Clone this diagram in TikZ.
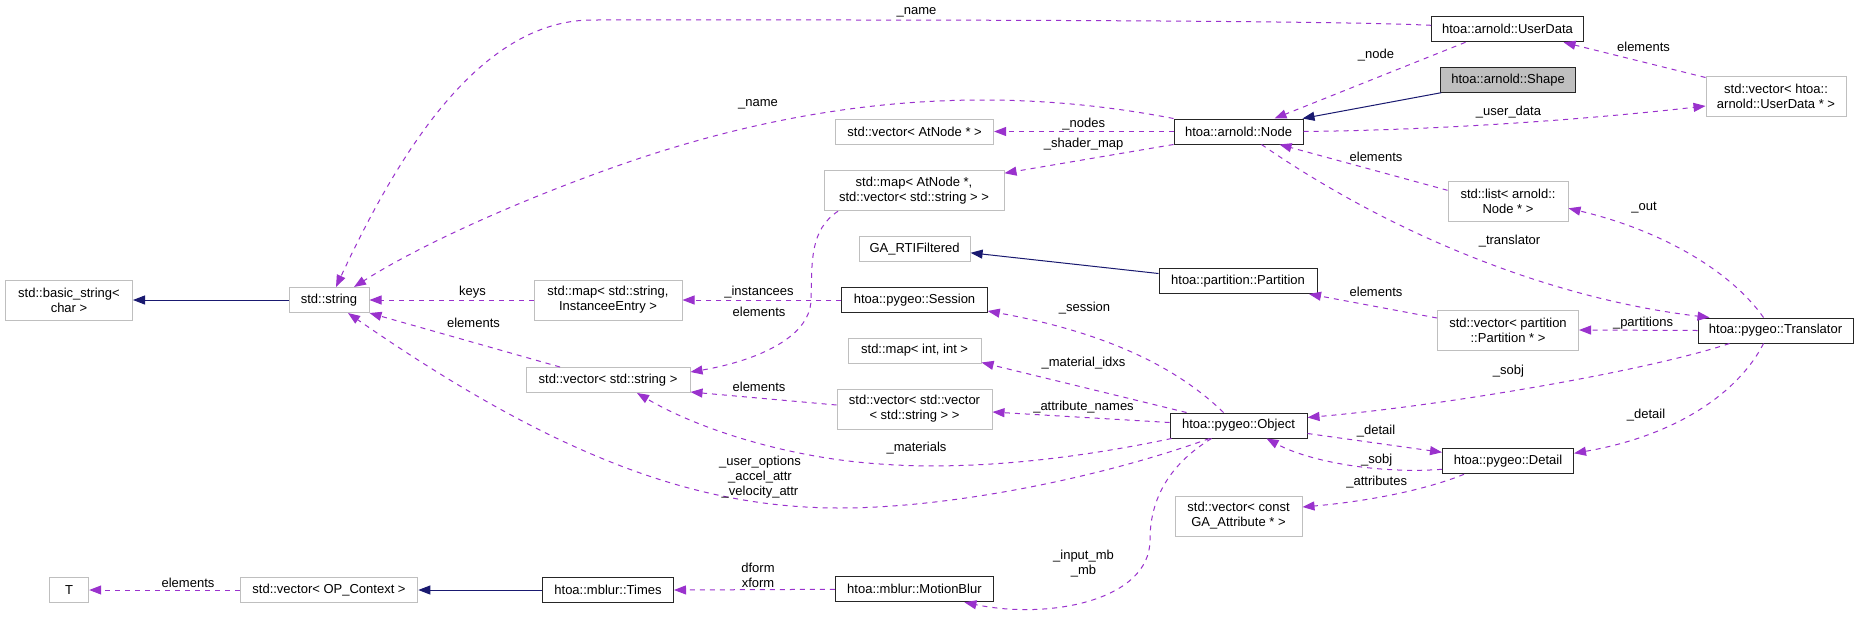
\documentclass[tikz,border=0pt]{standalone}
\usepackage{fontspec}
\setmainfont{Liberation Sans}
\usetikzlibrary{arrows.meta}
\definecolor{purp}{HTML}{9A32CD}
\definecolor{navy}{HTML}{191970}
\definecolor{extgray}{HTML}{BFBFBF}
\definecolor{shapefill}{HTML}{BFBFBF}
\newcommand{\dxfont}{\fontsize{13}{15}\selectfont}
\begin{document}
\begin{tikzpicture}[x=1pt,y=-1pt,
 box/.style={rectangle, inner sep=0pt, align=center, font=\dxfont, line width=1pt, fill=white},
 ext/.style={box, draw=extgray},
 doc/.style={box, draw=black!85},
 use/.style={draw=purp, line width=1pt, dash pattern=on 5pt off 5pt, -{Triangle[length=12pt,width=9pt]}},
 inh/.style={draw=navy, line width=1pt, -{Triangle[length=12pt,width=9pt]}},
 lbl/.style={font=\dxfont, inner sep=0pt, align=center}]
\useasboundingbox[fill=white] (0,0) rectangle (1859,616);

% nodes
\node[ext, minimum width=127pt, minimum height=40pt] (bstr) at (69,300) {std::basic\_string<\\char >};
\node[ext, minimum width=80pt, minimum height=25pt] (str) at (329,300) {std::string};
\node[ext, minimum width=148pt, minimum height=40pt] (mapinst) at (608,300) {std::map< std::string,\\InstanceeEntry >};
\node[ext, minimum width=164pt, minimum height=25pt] (vstr) at (608,380) {std::vector< std::string >};
\node[ext, minimum width=158pt, minimum height=25pt] (vatn) at (914.6,131.5) {std::vector< AtNode * >};
\node[ext, minimum width=180pt, minimum height=40pt] (mapatn) at (914,190.7) {std::map< AtNode *,\\ std::vector< std::string > >};
\node[ext, minimum width=111pt, minimum height=25pt] (garti) at (914.6,249.3) {GA\_RTIFiltered};
\node[doc, minimum width=145.5pt, minimum height=25pt] (sess) at (914.5,300) {htoa::pygeo::Session};
\node[ext, minimum width=133pt, minimum height=25pt] (mapint) at (914.6,350.5) {std::map< int, int >};
\node[ext, minimum width=155pt, minimum height=40pt] (vvstr) at (914.5,409) {std::vector< std::vector\\< std::string > >};
\node[doc, minimum width=158pt, minimum height=25pt] (mblur) at (914.4,589.3) {htoa::mblur::MotionBlur};
\node[doc, minimum width=131pt, minimum height=25pt] (times) at (608,590) {htoa::mblur::Times};
\node[ext, minimum width=177.6pt, minimum height=25pt] (vopc) at (329,590) {std::vector< OP\_Context >};
\node[ext, minimum width=39pt, minimum height=25pt] (T) at (69.2,590) {T};
\node[doc, minimum width=129pt, minimum height=25pt] (node) at (1238.5,131.5) {htoa::arnold::Node};
\node[doc, minimum width=158pt, minimum height=25pt] (part) at (1238,281) {htoa::partition::Partition};
\node[doc, minimum width=137pt, minimum height=25pt] (obj) at (1238.5,425.5) {htoa::pygeo::Object};
\node[doc, minimum width=152pt, minimum height=25pt] (udata) at (1507.5,29.3) {htoa::arnold::UserData};
\node[doc, fill=shapefill, minimum width=134.6pt, minimum height=25pt] (shape) at (1508,79.7) {htoa::arnold::Shape};
\node[ext, minimum width=120pt, minimum height=40pt] (lnode) at (1508,201.3) {std::list< arnold::\\Node * >};
\node[ext, minimum width=141pt, minimum height=40pt] (vpart) at (1508,330) {std::vector< partition\\::Partition * >};
\node[doc, minimum width=131pt, minimum height=25pt] (detail) at (1508,461.3) {htoa::pygeo::Detail};
\node[ext, minimum width=127pt, minimum height=40pt] (vattr) at (1238.5,516) {std::vector< const\\GA\_Attribute * >};
\node[ext, minimum width=140pt, minimum height=40pt] (vudata) at (1776,96) {std::vector< htoa::\\arnold::UserData * >};
\node[doc, minimum width=155pt, minimum height=25pt] (trans) at (1775.5,330.5) {htoa::pygeo::Translator};

% inheritance
\draw[inh] (str.west) -- (bstr.east);
\draw[inh] (times.west) -- (vopc.east);
\draw[inh] ([yshift=7.5pt]part.west) -- ([yshift=-3.5pt]garti.east);
\draw[inh] ([xshift=1pt]shape.south west) -- ([xshift=-1pt]node.north east);

% usage
\draw[use] (vopc.west) -- (T.east);
\draw[use] (mblur.west) -- (times.east);
\draw[use] (mapinst.west) -- (str.east);
\draw[use] ([xshift=-48pt]vstr.north) -- (str.south east);
\draw[use] (sess.west) -- (mapinst.east);
\draw[use] ([xshift=-76pt]mapatn.south) .. controls (810,230) and (812,260) .. (811,300) .. controls (810,340) and (750,362) .. ([yshift=8pt]vstr.east);
\draw[use] ([yshift=4pt]vvstr.west) -- ([yshift=1pt]vstr.south east);
\draw[use] ([xshift=2pt]obj.south west) .. controls (1060,462) and (960,470) .. (880,464) .. controls (790,458) and (700,430) .. ([xshift=29pt]vstr.south);
\draw[use] ([xshift=-29pt]obj.south) .. controls (1100,478) and (950,508) .. (840,508) .. controls (700,508) and (560,460) .. ([xshift=19pt]str.south);
\draw[use] (node.north west) .. controls (1000,85) and (820,95) .. (620,165) .. controls (520,200) and (420,245) .. ([xshift=25pt]str.north);
\draw[use] ([yshift=4pt]udata.west) .. controls (1300,19) and (700,20) .. (590,20) .. controls (480,22) and (400,150) .. ([xshift=7pt]str.north);
\draw[use] (node.west) -- (vatn.east);
\draw[use] (node.south west) -- ([yshift=-3pt]mapatn.north east);
\draw[use] ([xshift=-42pt]udata.south) -- ([xshift=36pt]node.north);
\draw[use] (node.east) .. controls (1450,130) and (1600,118) .. ([yshift=-10pt]vudata.west);
\draw[use] ([yshift=-2pt]vudata.north west) -- ([xshift=56pt]udata.south);
\draw[use] ([yshift=11pt]lnode.west) -- ([xshift=41pt]node.south);
\draw[use] ([xshift=23pt]node.south) .. controls (1400,240) and (1560,300) .. ([xshift=-66pt]trans.north);
\draw[use] ([xshift=-12pt]trans.north) .. controls (1730,270) and (1660,230) .. ([yshift=-7pt]lnode.east);
\draw[use] ([yshift=12pt]vpart.west) -- ([xshift=71pt]part.south);
\draw[use] (trans.west) -- (vpart.east);
\draw[use] ([xshift=-15pt]obj.north) .. controls (1185,375) and (1120,335) .. ([yshift=2pt]sess.south east);
\draw[use] ([xshift=-52pt]obj.north) -- ([yshift=1pt]mapint.south east);
\draw[use] ([yshift=3pt]obj.west) -- ([yshift=-3pt]vvstr.east);
\draw[use] ([xshift=-46pt]trans.south) .. controls (1650,370) and (1450,405) .. ([yshift=8pt]obj.east);
\draw[use] ([xshift=-12pt]trans.south) .. controls (1740,390) and (1680,435) .. ([yshift=8pt]detail.east);
\draw[use] ([yshift=-8pt]obj.east) -- ([yshift=9pt]detail.west);
\draw[use] ([yshift=-8pt]detail.west) .. controls (1380,474) and (1310,462) .. ([xshift=28pt]obj.south);
\draw[use] ([xshift=-44pt]detail.south) .. controls (1420,492) and (1360,502) .. ([yshift=9pt]vattr.east);
\draw[use] ([xshift=-27pt]obj.south) .. controls (1160,470) and (1150,510) .. (1150,540) .. controls (1150,600) and (1050,620) .. ([xshift=50pt]mblur.south);

% labels
\node[lbl] (l5) at (188,583) {elements};
\node[lbl] (l6) at (758,575) {dform\\xform};
\node[lbl] (l7) at (472.6,292) {keys};
\node[lbl] (l8) at (473.5,323) {elements};
\node[lbl] (l9) at (759,292) {\_instancees};
\node[lbl] (l10) at (759,312) {elements};
\node[lbl] (l11) at (759,387) {elements};
\node[lbl] (l12) at (916.5,448) {\_materials};
\node[lbl] (l13) at (760,477) {\_user\_options\\\_accel\_attr\\\_velocity\_attr};
\node[lbl] (l14) at (758,104) {\_name};
\node[lbl] (l15) at (916.5,12) {\_name};
\node[lbl] (l16) at (1083.7,124) {\_nodes};
\node[lbl] (l17) at (1083.6,144) {\_shader\_map};
\node[lbl] (l18) at (1376,55) {\_node};
\node[lbl] (l19) at (1508.5,112) {\_user\_data};
\node[lbl] (l20) at (1643.5,47) {elements};
\node[lbl] (l21) at (1376,157) {elements};
\node[lbl] (l22) at (1509.5,241) {\_translator};
\node[lbl] (l23) at (1644,208) {\_out};
\node[lbl] (l24) at (1376,292) {elements};
\node[lbl] (l25) at (1643,323) {\_partitions};
\node[lbl] (l26) at (1084.5,308) {\_session};
\node[lbl] (l27) at (1083.5,363) {\_material\_idxs};
\node[lbl] (l28) at (1083.5,407) {\_attribute\_names};
\node[lbl] (l29) at (1508.4,371) {\_sobj};
\node[lbl] (l30) at (1646,415) {\_detail};
\node[lbl] (l31) at (1376,431) {\_detail};
\node[lbl] (l32) at (1376.7,460) {\_sobj};
\node[lbl] (l33) at (1376.7,482) {\_attributes};
\node[lbl] (l34) at (1083.5,564) {\_input\_mb\\\_mb};
\end{tikzpicture}
\end{document}
